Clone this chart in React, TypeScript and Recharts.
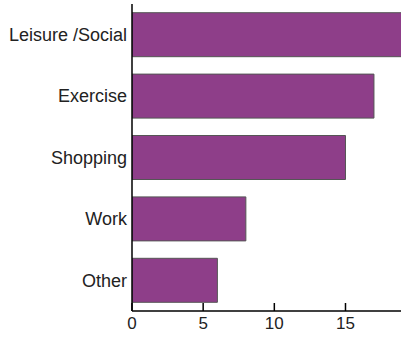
import React from "react";
import { BarChart, Bar, XAxis, YAxis } from "recharts";

const categories = ["Leisure /Social", "Exercise", "Shopping", "Work", "Other"];
const values = [19, 17, 15, 8, 6];
const xTicks = [0, 5, 10, 15];

const data = categories.map((name, i) => ({ name, value: values[i] }));

export default function App() {
  return (
    <div style={{ position: "absolute", left: 0, top: 0, background: "#fff" }}>
      <BarChart
        width={401}
        height={339}
        data={data}
        layout="vertical"
        margin={{ top: 4, right: 0, bottom: 0, left: 0 }}
        barCategoryGap={8.7}
      >
        <XAxis
          type="number"
          domain={[0, 18.9]}
          ticks={xTicks}
          allowDataOverflow
          height={28}
          stroke="#000"
          strokeWidth={1.5}
          tickSize={-8}
          tickMargin={14}
          tick={{ fill: "#222", fontSize: 17, fontFamily: "Liberation Sans, Arial, sans-serif" }}
        />
        <YAxis
          type="category"
          dataKey="name"
          width={132}
          stroke="#000"
          strokeWidth={1.5}
          tickLine={false}
          tickSize={0}
          tickMargin={5}
          tick={{ fill: "#222", fontSize: 18, fontFamily: "Liberation Sans, Arial, sans-serif" }}
        />
        <Bar dataKey="value" fill="#8E3E89" stroke="#555" strokeWidth={1} isAnimationActive={false} />
      </BarChart>
    </div>
  );
}
